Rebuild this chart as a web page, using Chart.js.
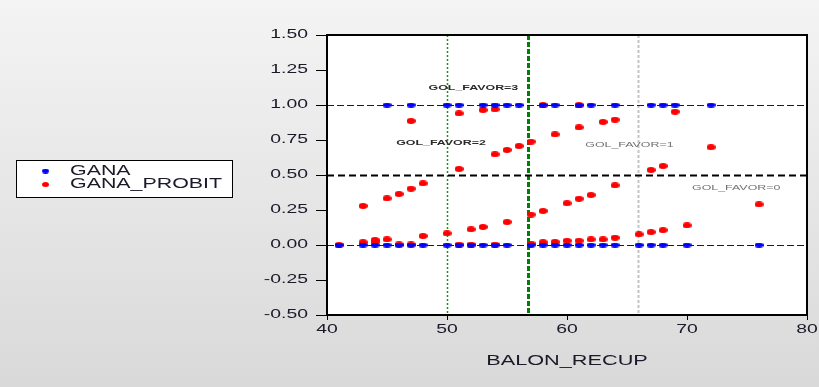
<!DOCTYPE html>
<html>
<head>
<meta charset="utf-8">
<script src="https://cdn.jsdelivr.net/npm/chart.js@4"></script>
<style>
html, body { margin: 0; padding: 0; }
body { width: 819px; height: 387px; overflow: hidden; background: linear-gradient(#f4f4f4, #d9d9d9); }
</style>
</head>
<body>
<canvas id="chart" width="819" height="387"></canvas>
<script>
// GANA (0/1 outcome) by BALON_RECUP
const ganaX = [45, 47, 50, 51, 53, 54, 55, 56, 58, 59, 61, 62, 64, 67, 68, 69, 72,
               41, 43, 44, 45, 46, 47, 48, 50, 51, 52, 53, 54, 55, 57, 58, 59, 60, 61, 62, 63, 64, 66, 67, 68, 70, 76];
const ganaY = [1, 1, 1, 1, 1, 1, 1, 1, 1, 1, 1, 1, 1, 1, 1, 1, 1,
               0, 0, 0, 0, 0, 0, 0, 0, 0, 0, 0, 0, 0, 0, 0, 0, 0, 0, 0, 0, 0, 0, 0, 0, 0, 0];

// fitted probit probabilities
const probitX = [47, 51, 53, 54, 58, 61, 59, 61, 63, 64, 69, 72,
                 51, 54, 55, 56, 57, 43, 45, 46, 47, 48, 67, 68, 76,
                 48, 50, 52, 53, 55, 57, 58, 60, 61, 62, 64, 70,
                 41, 43, 44, 44, 45, 46, 47, 51, 52, 54, 57, 58, 59, 60, 61, 62, 63, 64, 66, 67, 68];
const probitY = [0.886, 0.94, 0.964, 0.969, 0.998, 0.997, 0.79, 0.84, 0.879, 0.895, 0.952, 0.698,
                 0.543, 0.648, 0.679, 0.707, 0.738, 0.279, 0.333, 0.364, 0.402, 0.44, 0.536, 0.564, 0.29,
                 0.064, 0.083, 0.112, 0.129, 0.164, 0.217, 0.243, 0.298, 0.33, 0.357, 0.426, 0.14,
                 0.0, 0.02, 0.022, 0.036, 0.04, 0.004, 0.004, 0.003, 0.003, 0.003, 0.01, 0.02, 0.022, 0.03, 0.03, 0.04, 0.04, 0.052, 0.076, 0.092, 0.106];

const xTicks = [40, 50, 60, 70, 80];
const yTicks = [-0.5, -0.25, 0, 0.25, 0.5, 0.75, 1, 1.25, 1.5];

// reference lines
const refY = [0, 0.5, 1];
const refX = [50, 56.75, 65.9];

// curve labels, anchored at data coordinates
const curveLabels = ['GOL_FAVOR=3', 'GOL_FAVOR=2', 'GOL_FAVOR=1', 'GOL_FAVOR=0'];
const curveLabelX = [52.2, 49.5, 65.2, 74.1];
const curveLabelY = [1.124, 0.729, 0.714, 0.412];

const FONT = '"Liberation Sans", Arial, sans-serif';
const TEXT = '#1a1a2a';
const SX = 1.55; // the picture's text is wide

function makeDot(color, w, h) {
    const c = document.createElement('canvas');
    c.width = w;
    c.height = h;
    const g = c.getContext('2d');
    g.fillStyle = color;
    g.beginPath();
    g.ellipse(w / 2, h / 2, w / 2, h / 2, 0, 0, Math.PI * 2);
    g.fill();
    return c;
}

function wideText(ctx, text, x, y, font, color, align) {
    ctx.save();
    ctx.font = font;
    ctx.fillStyle = color;
    ctx.textBaseline = 'middle';
    ctx.textAlign = 'left';
    let w = ctx.measureText(text).width * SX;
    let left = align === 'right' ? x - w : (align === 'center' ? x - w / 2 : x);
    ctx.translate(left, y);
    ctx.scale(SX, 1);
    ctx.fillText(text, 0, 0);
    ctx.restore();
}

function toPoints(xs, ys) {
    return xs.map((x, i) => ({ x: x, y: ys[i] }));
}

const blueDot = makeDot('#0000ff', 9, 5);
const redDot = makeDot('#ff0000', 9, 6);

const overlay = {
    id: 'overlay',
    beforeDraw(chart) {
        const { ctx, chartArea: a } = chart;
        ctx.save();
        ctx.fillStyle = '#ffffff';
        ctx.fillRect(a.left, a.top, a.right - a.left, a.bottom - a.top);
        ctx.restore();
    },
    beforeDatasetsDraw(chart) {
        const { ctx, chartArea: a, scales } = chart;
        ctx.save();
        ctx.beginPath();
        ctx.rect(a.left, a.top, a.right - a.left, a.bottom - a.top);
        ctx.clip();

        // vertical lines
        const vStyles = [
            { color: '#109a10', width: 1.5, dash: [2, 2] },
            { color: '#008000', width: 3, dash: [5, 2] },
            { color: '#c4c4c4', width: 2, dash: [3, 2] }
        ];
        refX.forEach((v, i) => {
            let px = Math.round(scales.x.getPixelForValue(v)) + 0.5;
            ctx.strokeStyle = vStyles[i].color;
            ctx.lineWidth = vStyles[i].width;
            ctx.setLineDash(vStyles[i].dash);
            ctx.beginPath();
            ctx.moveTo(px, a.top);
            ctx.lineTo(px, a.bottom);
            ctx.stroke();
        });

        // horizontal lines
        refY.forEach(v => {
            let py = Math.round(scales.y.getPixelForValue(v)) + 0.5;
            if (v === 0.5) {
                ctx.strokeStyle = '#000000';
                ctx.lineWidth = 2;
                ctx.setLineDash([7, 4]);
            } else {
                ctx.strokeStyle = '#0000ff';
                ctx.lineWidth = 1;
                ctx.setLineDash([7, 3]);
            }
            ctx.beginPath();
            ctx.moveTo(a.left, py);
            ctx.lineTo(a.right, py);
            ctx.stroke();
        });
        ctx.setLineDash([]);

        // curve labels
        curveLabels.forEach((t, i) => {
            let dark = i < 2;
            wideText(ctx, t,
                scales.x.getPixelForValue(curveLabelX[i]),
                scales.y.getPixelForValue(curveLabelY[i]),
                (dark ? 'bold ' : '') + '8px ' + FONT,
                dark ? '#2a2a2a' : '#707070', 'center');
        });
        ctx.restore();
    },
    afterDraw(chart) {
        const { ctx, chartArea: a, scales } = chart;

        // frame
        ctx.save();
        ctx.strokeStyle = '#000000';
        ctx.lineWidth = 2;
        ctx.strokeRect(a.left, a.top, a.right - a.left, a.bottom - a.top);
        ctx.restore();

        // tick labels
        yTicks.forEach(v => {
            wideText(ctx, v.toFixed(2), a.left - 19, scales.y.getPixelForValue(v), '12.5px ' + FONT, TEXT, 'right');
        });
        xTicks.forEach(v => {
            wideText(ctx, String(v), scales.x.getPixelForValue(v), a.bottom + 15, '12.5px ' + FONT, TEXT, 'center');
        });

        // axis title
        wideText(ctx, 'BALON_RECUP', (a.left + a.right) / 2, a.bottom + 46, '14px ' + FONT, TEXT, 'center');

        // legend
        ctx.save();
        ctx.fillStyle = '#ffffff';
        ctx.fillRect(17, 160, 216, 37);
        ctx.strokeStyle = '#000000';
        ctx.lineWidth = 1;
        ctx.strokeRect(16.5, 160.5, 216, 37);
        ctx.restore();
        const legendDots = [makeDot('#0000ff', 7, 5), makeDot('#ff0000', 7, 5)];
        chart.data.datasets.forEach((ds, i) => {
            let y = 171 + i * 13.5;
            ctx.drawImage(legendDots[i], 42, y - 2.5);
            wideText(ctx, ds.label, 70, y, '13.8px ' + FONT, TEXT, 'left');
        });
    }
};

new Chart(document.getElementById('chart').getContext('2d'), {
    type: 'scatter',
    data: {
        datasets: [
            {
                label: 'GANA',
                data: toPoints(ganaX, ganaY),
                pointStyle: blueDot,
                backgroundColor: '#0000ff'
            },
            {
                label: 'GANA_PROBIT',
                data: toPoints(probitX, probitY),
                pointStyle: redDot,
                backgroundColor: '#ff0000'
            }
        ]
    },
    options: {
        responsive: false,
        animation: false,
        devicePixelRatio: 1,
        layout: { padding: { top: 35, right: 12, left: 0, bottom: 0 } },
        plugins: {
            legend: { display: false },
            tooltip: { enabled: false }
        },
        scales: {
            x: {
                type: 'linear',
                min: 40,
                max: 80,
                ticks: { stepSize: 10, display: false },
                grid: { drawOnChartArea: false, drawTicks: true, tickLength: 5, color: '#000000' },
                border: { display: true, color: '#000000', width: 2 },
                afterFit: s => { s.height = 72; }
            },
            y: {
                type: 'linear',
                min: -0.5,
                max: 1.5,
                ticks: { stepSize: 0.25, display: false },
                grid: { drawOnChartArea: false, drawTicks: true, tickLength: 11, color: '#000000' },
                border: { display: true, color: '#000000', width: 2 },
                afterFit: s => { s.width = 327; }
            }
        }
    },
    plugins: [overlay]
});
</script>
</body>
</html>
